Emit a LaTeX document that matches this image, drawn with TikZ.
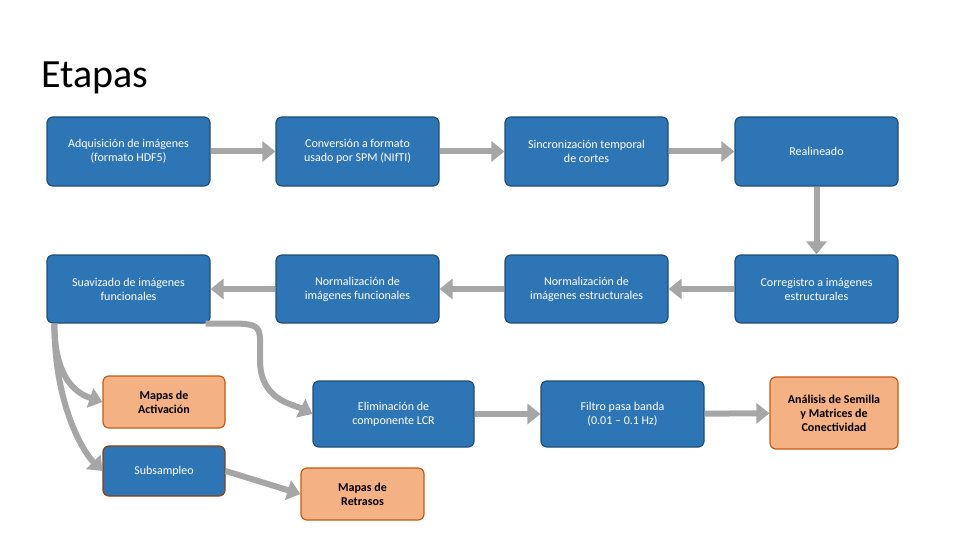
\documentclass[tikz,border=0pt]{standalone}
\usepackage{fontspec}
\setmainfont{Carlito}
\usetikzlibrary{arrows.meta}
\definecolor{bfill}{HTML}{2E75B6}
\definecolor{bdraw}{HTML}{1F4E79}
\definecolor{ofill}{HTML}{F4B183}
\definecolor{odraw}{HTML}{C55A11}
\definecolor{agray}{HTML}{A6A6A6}
\tikzset{
 bx/.style={rounded corners=6pt,line width=1.2pt,align=center,font=\fontsize{12}{14}\selectfont},
 bluebox/.style={bx,fill=bfill,draw=bdraw,text=white},
 orbox/.style={bx,fill=ofill,draw=odraw,text=black},
 ar/.style={draw=agray,line width=6pt,-{Triangle[length=13pt,width=20pt]}},
}
\begin{document}
\begin{tikzpicture}[x=1pt,y=-1pt]
\useasboundingbox (0,0) rectangle (960,540);
\node[anchor=west,font=\fontsize{40}{44}\selectfont] (t) at (38,78) {Etapas};
\newcommand\bb[6]{\node[#6,minimum width=#3-#1,minimum height=#4-#2] (#5) at ({(#1+#3)/2},{(#2+#4)/2})}
\bb{47}{117}{210}{186}{a}{bluebox}{Adquisición de imágenes\\(formato HDF5)};
\bb{276}{117}{439}{186}{b}{bluebox}{Conversión a formato\\usado por SPM (NIfTI)};
\bb{505}{117}{668}{186}{c}{bluebox}{Sincronización temporal\\de cortes};
\bb{735}{117}{898}{186}{d}{bluebox}{Realineado};
\bb{47}{255}{210}{323}{e}{bluebox}{Suavizado de imágenes\\funcionales};
\bb{276}{255}{439}{323}{f}{bluebox}{Normalización de\\imágenes funcionales};
\bb{505}{255}{668}{323}{g}{bluebox}{Normalización de\\imágenes estructurales};
\bb{735}{255}{898}{323}{h}{bluebox}{Corregistro a imágenes\\estructurales};
\bb{103}{376}{225}{428}{ma}{orbox}{\bfseries Mapas de\\\bfseries Activación};
\bb{103}{446}{225}{496}{s}{bluebox,draw=odraw!70!black}{Subsampleo};
\bb{313}{381}{474}{447}{el}{bluebox}{Eliminación de\\componente LCR};
\bb{541}{381}{704}{447}{fi}{bluebox}{Filtro pasa banda\\(0.01 – 0.1 Hz)};
\bb{770}{377}{898}{449}{an}{orbox}{\bfseries Análisis de Semilla\\\bfseries y Matrices de\\\bfseries Conectividad};
\bb{301}{468}{424}{520}{mr}{orbox}{\bfseries Mapas de\\\bfseries Retrasos};
\draw[ar] (a) -- (b);
\draw[ar] (b) -- (c);
\draw[ar] (c) -- (d);
\draw[ar] (d) -- (h);
\draw[ar] (h) -- (g);
\draw[ar] (g) -- (f);
\draw[ar] (f) -- (e);
\draw[ar] (el) -- (fi);
\draw[ar] (fi) -- (an);
\draw[ar] ([xshift=8pt]e.south west) .. controls +(0,50) and +(-30,-10) .. (ma.west);
\draw[ar] ([xshift=8pt]e.south west) .. controls +(0,80) and +(-20,-20) .. (s.west);
\draw[ar] ([xshift=-5pt]e.south east) .. controls +(60,0) and +(0,-40) .. (260,360) .. controls +(0,40) and +(-20,-10) .. (el.west);
\draw[ar] (s.east) -- (mr.west);
\end{tikzpicture}
\end{document}
